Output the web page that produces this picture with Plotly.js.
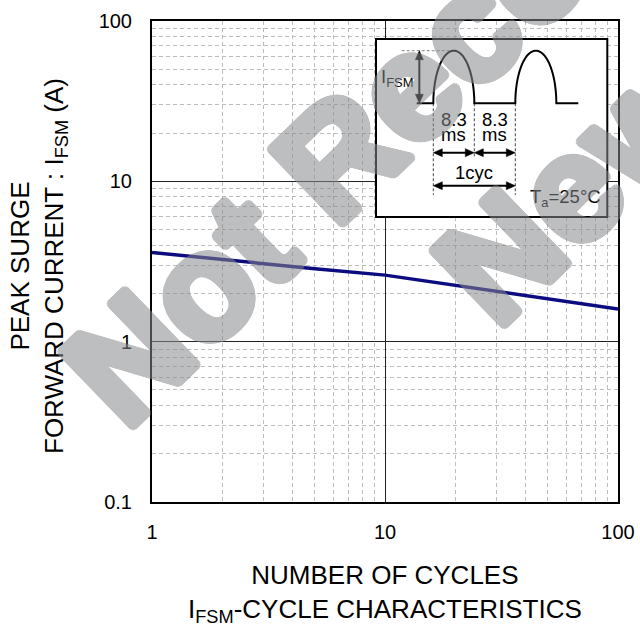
<!DOCTYPE html>
<html><head><meta charset="utf-8">
<script src="https://cdn.plot.ly/plotly-3.0.1.min.js"></script>
<style>html,body{margin:0;padding:0;background:#fff}#chart{width:640px;height:630px}</style>
</head><body><div id="chart"></div>
<script>
// ---- chart data ----
const cycles = [1, 2, 5, 10, 20, 50, 100];
const ifsmA = [3.6, 3.25, 2.85, 2.6, 2.25, 1.85, 1.6];
const xTickVals = [1, 10, 100];
const xTickText = ['1', '10', '100'];
const yTickVals = [0.1, 1, 10, 100];
const yTickText = ['0.1', '1', '10', '100'];

// ---- inset waveform (time in ms, amplitude relative to IFSM) ----
const halfCycleMs = 8.3;
const pulseStartsMs = [0, 16.6];
const waveStartMs = -3.36;
const waveEndMs = 29.35;
const insetLabels = ['8.3', 'ms', '1cyc'];

const FONT = 'Liberation Sans, Arial, Helvetica, sans-serif';

// plot area geometry helpers (pixels)
const W = 640, H = 630, ML = 152, MR = 22, MT = 21, MB = 128;
const PW = W - ML - MR, PH = H - MT - MB;
const px2paperX = p => (p - ML) / PW;
const px2paperY = p => (H - MB - p) / PH;

// inset scale: px per ms and px per unit amplitude
const PX_MS = 4.94, PX_U = 52.6;
const AL_X = 9 / PX_MS, HW_Y = 4 / PX_U;   // arrowhead along x
const AL_Y = 9 / PX_U, HW_X = 4 / PX_MS;   // arrowhead along y

function wavePath() {
  let d = `M${waveStartMs},0`;
  pulseStartsMs.forEach(s => {
    d += ` L${s},0`;
    const n = 60, r = halfCycleMs / 2, c = s + r;
    for (let i = 0; i <= n; i++) {
      const a = Math.PI - Math.PI * i / n;
      d += ` L${(c + r * Math.cos(a)).toFixed(3)},${Math.sin(a).toFixed(4)}`;
    }
  });
  d += ` L${waveEndMs},0`;
  return d;
}

const ins = {xref: 'x2', yref: 'y2', layer: 'above'};
function line(x0, y0, x1, y1, color, width, dash) {
  return Object.assign({type: 'line', x0, y0, x1, y1, line: {color, width, dash: dash || 'solid'}}, ins);
}
function tri(path) {
  return Object.assign({type: 'path', path, fillcolor: '#000', line: {color: '#000', width: 0.5}}, ins);
}
function hArrow(x0, x1, y) {
  return [
    line(x0 + AL_X * 0.8, y, x1 - AL_X * 0.8, y, '#000', 2),
    tri(`M${x0},${y} L${x0 + AL_X},${y + HW_Y} L${x0 + AL_X},${y - HW_Y} Z`),
    tri(`M${x1},${y} L${x1 - AL_X},${y + HW_Y} L${x1 - AL_X},${y - HW_Y} Z`)
  ];
}
function vArrow(x, y0, y1) {
  return [
    line(x, y0 + AL_Y * 0.8, x, y1 - AL_Y * 0.8, '#000', 2),
    tri(`M${x},${y0} L${x - HW_X},${y0 + AL_Y} L${x + HW_X},${y0 + AL_Y} Z`),
    tri(`M${x},${y1} L${x - HW_X},${y1 - AL_Y} L${x + HW_X},${y1 - AL_Y} Z`)
  ];
}

const p0 = pulseStartsMs[0], p1 = p0 + halfCycleMs, p2 = pulseStartsMs[1];
const shapes = [
  {type: 'rect', xref: 'x2 domain', yref: 'y2 domain', x0: 0, x1: 1, y0: 0, y1: 1,
   fillcolor: '#fff', line: {color: '#000', width: 2}, layer: 'above'},
  line(-6.4, 1.0, 4.0, 1.0, '#888', 1, '3px,2px'),
  line(p0, 0, p0, -1.743, '#444', 1, '3px,2px'),
  line(p1, 0, p1, -1.02, '#444', 1, '3px,2px'),
  line(p2, 0, p2, -1.743, '#444', 1, '3px,2px'),
  Object.assign({type: 'path', path: wavePath(), line: {color: '#000', width: 2}}, ins),
  ...vArrow(-2.83, 0, 1),
  ...hArrow(p0, p1, -0.939),
  ...hArrow(p1, p2, -0.939),
  ...hArrow(p0, p2, -1.567)
];

const insFont = {family: FONT, size: 18.5, color: '#000'};
function insText(text, x, y) {
  return {xref: 'x2', yref: 'y2', x, y, text, showarrow: false, font: insFont,
          xanchor: 'center', yanchor: 'middle'};
}

// watermark: heavy grey letters, semi-transparent as a group
const WM_COLOR = '#88898c';
const shadowParts = [];
for (let k = 0; k < 16; k++) {
  const a = 2 * Math.PI * k / 16;
  shadowParts.push(`${(4.5 * Math.cos(a)).toFixed(2)}px ${(4.5 * Math.sin(a)).toFixed(2)}px 0 ${WM_COLOR}`);
}
for (let k = 0; k < 8; k++) {
  const a = 2 * Math.PI * k / 8 + 0.2;
  shadowParts.push(`${(2.3 * Math.cos(a)).toFixed(2)}px ${(2.3 * Math.sin(a)).toFixed(2)}px 0 ${WM_COLOR}`);
}
const wmFont = {family: FONT, size: 150, color: WM_COLOR, weight: 'bold', shadow: shadowParts.join(', ')};

const annotations = [
  insText('I<sub>FSM</sub>', -7.35, 0.48),
  insText(insetLabels[0], (p0 + p1) / 2, -0.304),
  insText(insetLabels[1], (p0 + p1) / 2, -0.589),
  insText(insetLabels[0], (p1 + p2) / 2, -0.304),
  insText(insetLabels[1], (p1 + p2) / 2, -0.589),
  insText(insetLabels[2], p1, -1.319),
  insText('T<sub>a</sub>=25°C', 26.66, -1.806),
  // axis titles
  {xref: 'paper', yref: 'paper', x: px2paperX(38), y: px2paperY(266), textangle: -90,
   text: 'PEAK SURGE<br>FORWARD CURRENT : I<sub>FSM</sub> (A)', showarrow: false,
   font: {family: FONT, size: 26, color: '#000'}, xanchor: 'center', yanchor: 'middle'},
  {xref: 'paper', yref: 'paper', x: 0.5, y: px2paperY(593),
   text: 'NUMBER OF CYCLES<br>I<sub>FSM</sub>-CYCLE CHARACTERISTICS', showarrow: false,
   font: {family: FONT, size: 26, color: '#000'}, xanchor: 'center', yanchor: 'middle'},
  // watermark
  {xref: 'paper', yref: 'paper', x: px2paperX(668), y: px2paperY(-163), textangle: -44,
   text: 'Not Recommended for', showarrow: false, font: wmFont, opacity: 0.55,
   xanchor: 'center', yanchor: 'middle'},
  {xref: 'paper', yref: 'paper', x: px2paperX(797), y: px2paperY(-30), textangle: -44,
   text: 'New Designs', showarrow: false, font: wmFont, opacity: 0.55,
   xanchor: 'center', yanchor: 'middle'}
];

const traces = [
  {x: cycles, y: ifsmA, type: 'scatter', mode: 'lines', line: {color: '#0c0c80', width: 3.5},
   hoverinfo: 'skip', showlegend: false},
  {x: [], y: [], xaxis: 'x2', yaxis: 'y2', type: 'scatter', mode: 'lines', showlegend: false, hoverinfo: 'skip'}
];

const minorGrid = {dtick: 'D1', showgrid: true, gridcolor: '#bdbdbd', gridwidth: 1, griddash: '4px,3px', ticks: ''};
const layout = {
  width: W, height: H,
  margin: {l: ML, r: MR, t: MT, b: MB, pad: 0},
  paper_bgcolor: '#fff', plot_bgcolor: '#fff',
  showlegend: false,
  font: {family: FONT, color: '#000'},
  xaxis: {type: 'log', range: [0, 2], tickmode: 'array', tickvals: xTickVals, ticktext: xTickText,
          showgrid: true, gridcolor: '#222', gridwidth: 1, zeroline: false,
          showline: true, mirror: true, linecolor: '#000', linewidth: 2, ticks: '',
          ticklabelstandoff: 11, tickfont: {family: FONT, size: 20, color: '#000'},
          minor: minorGrid, fixedrange: true},
  yaxis: {type: 'log', range: [-1, 2], tickmode: 'array', tickvals: yTickVals, ticktext: yTickText,
          showgrid: true, gridcolor: '#222', gridwidth: 1, zeroline: false,
          showline: true, mirror: true, linecolor: '#000', linewidth: 2, ticks: '',
          ticklabelstandoff: 14, tickfont: {family: FONT, size: 20, color: '#000'},
          minor: minorGrid, fixedrange: true},
  xaxis2: {domain: [px2paperX(376), px2paperX(607.3)], anchor: 'y2', range: [-11.6, 35.22],
           visible: false, fixedrange: true},
  yaxis2: {domain: [px2paperY(217), px2paperY(39)], anchor: 'x2', range: [-2.162, 1.222],
           visible: false, fixedrange: true},
  shapes, annotations
};

Plotly.newPlot('chart', traces, layout, {displayModeBar: false, staticPlot: true});
</script></body></html>
